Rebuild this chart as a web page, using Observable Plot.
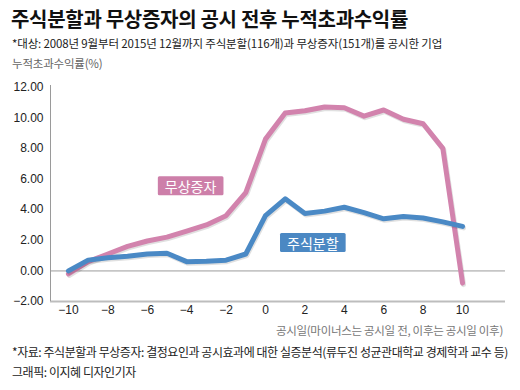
<!DOCTYPE html>
<html><head><meta charset="utf-8">
<script src="https://cdn.jsdelivr.net/npm/d3@7"></script>
<script src="https://cdn.jsdelivr.net/npm/@observablehq/plot@0.6"></script>
<style>
html,body{margin:0;padding:0;background:#fff;}
#wrap{position:relative;width:520px;height:390px;overflow:hidden;font-family:"Noto Sans CJK KR","Noto Sans",sans-serif;}
.t{position:absolute;white-space:nowrap;}
#title{left:11px;top:4px;font-size:20px;font-weight:700;color:#111;letter-spacing:-0.3px;}
#sub{left:12px;top:35px;font-size:11.5px;color:#222;letter-spacing:-0.15px;}
#unit{left:12px;top:55px;font-size:11.5px;color:#666;letter-spacing:-0.2px;}
#xlab{right:17px;top:322px;font-size:11.5px;color:#777;letter-spacing:-0.3px;}
#src{left:12px;top:343px;font-size:12px;color:#222;letter-spacing:-0.45px;}
#cred{left:12px;top:363px;font-size:12px;color:#222;letter-spacing:-0.45px;}
#plot{position:absolute;left:0;top:70px;}
</style></head>
<body><div id="wrap">
<div class="t" id="title">주식분할과 무상증자의 공시 전후 누적초과수익률</div>
<div class="t" id="sub">*대상: 2008년 9월부터 2015년 12월까지 주식분할(116개)과 무상증자(151개)를 공시한 기업</div>
<div class="t" id="unit">누적초과수익률(%)</div>
<div id="plot"></div>
<div class="t" id="xlab">공시일(마이너스는 공시일 전, 이후는 공시일 이후)</div>
<div class="t" id="src">*자료: 주식분할과 무상증자: 결정요인과 공시효과에 대한 실증분석(류두진 성균관대학교 경제학과 교수 등)</div>
<div class="t" id="cred">그래픽: 이지혜 디자인기자</div>
</div>
<script>
const days = [-10,-9,-8,-7,-6,-5,-4,-3,-2,-1,0,1,2,3,4,5,6,7,8,9,10];
const bonusIssue = [-0.2,0.6,1.1,1.6,1.95,2.2,2.6,3.0,3.6,5.1,8.6,10.3,10.45,10.7,10.65,10.1,10.5,9.9,9.6,8.0,-0.8];
const stockSplit = [0.0,0.7,0.85,0.95,1.1,1.15,0.6,0.62,0.7,1.1,3.6,4.7,3.75,3.9,4.15,3.8,3.4,3.55,3.45,3.2,2.9];
const seriesNames = ["무상증자","주식분할"];
const seriesColors = ["#d283ad","#4a89c5"];
const labelBoxColors = ["#cd7fa9","#4b88c3"];
const labelX = [-3.8, 2.4];
const labelY = [5.45, 1.75];
const xTicks = [-10,-8,-6,-4,-2,0,2,4,6,8,10];
const yTicks = [-2,0,2,4,6,8,10,12];
const xDomain = [-10.91, 12.18];
const yDomain = [-2, 12.1];

const rows = [];
days.forEach((d,i)=>{
  rows.push({day:d, value:bonusIssue[i], series:seriesNames[0]});
  rows.push({day:d, value:stockSplit[i], series:seriesNames[1]});
});
const labels = seriesNames.map((n,i)=>({name:n, x:labelX[i], y:labelY[i], box:labelBoxColors[i]}));
const minus = v => (v<0?"\u2212":"") + Math.abs(v);

const chart = Plot.plot({
  width:520, height:270,
  marginTop:15, marginBottom:39, marginLeft:50, marginRight:15,
  style:{fontSize:"12px", fontFamily:"'Liberation Sans', Arial, sans-serif", color:"#222", background:"#fff"},
  x:{domain:xDomain, ticks:xTicks, tickSize:0, tickPadding:4, tickFormat:minus, label:null},
  y:{domain:yDomain, ticks:yTicks, tickSize:0, tickPadding:7, tickFormat:v=>(v<0?"\u2212":"")+Math.abs(v).toFixed(2), label:null},
  color:{domain:seriesNames, range:seriesColors},
  marks:[
    Plot.ruleY([0], {stroke:"#c6c6c6", strokeWidth:1.6}),
    Plot.ruleY([yDomain[0]], {stroke:"#bdbdbd", strokeWidth:2}),
    Plot.ruleX([xDomain[0]], {stroke:"#9a9a9a", strokeWidth:1}),
    Plot.line(rows.filter(r=>r.series===seriesNames[0]), {x:"day", y:"value", stroke:"#000", strokeOpacity:0.12, strokeWidth:5, dx:1, dy:1.5, strokeLinejoin:"round"}),
    Plot.line(rows.filter(r=>r.series===seriesNames[0]), {x:"day", y:"value", stroke:"series", strokeWidth:5, strokeLinejoin:"round", strokeLinecap:"round"}),
    Plot.line(rows.filter(r=>r.series===seriesNames[1]), {x:"day", y:"value", stroke:"#000", strokeOpacity:0.12, strokeWidth:5, dx:1, dy:1.5, strokeLinejoin:"round"}),
    Plot.line(rows.filter(r=>r.series===seriesNames[1]), {x:"day", y:"value", stroke:"series", strokeWidth:5, strokeLinejoin:"round", strokeLinecap:"round"}),
    Plot.text(labels, {x:"x", y:"y", text:"name", fill:"#fff", fontSize:14, fontFamily:"'Noto Sans CJK KR', sans-serif"})
  ]
});
document.getElementById("plot").appendChild(chart);
// Draw label boxes behind the series label texts
const labelTexts = Array.from(chart.querySelectorAll("text")).filter(t => labels.some(l => l.name === t.textContent));
labelTexts.forEach(t=>{
  const lab = labels.find(l => l.name === t.textContent);
  const b = t.getBBox();
  const r = document.createElementNS("http://www.w3.org/2000/svg","rect");
  const padX = 7, h = 19;
  const cy = b.y + b.height/2;
  r.setAttribute("x", b.x - padX);
  r.setAttribute("y", cy - h/2);
  r.setAttribute("width", b.width + 2*padX);
  r.setAttribute("height", h);
  r.setAttribute("rx", 1.5);
  r.setAttribute("fill", lab.box);
  if (t.getAttribute("transform")) r.setAttribute("transform", t.getAttribute("transform"));
  t.parentNode.insertBefore(r, t);
});
</script>
</body></html>
